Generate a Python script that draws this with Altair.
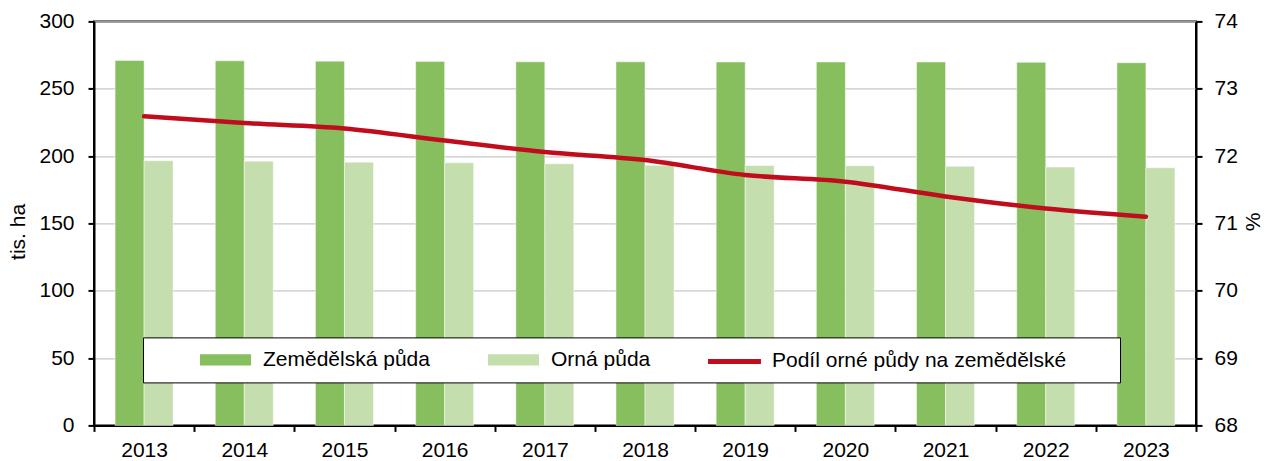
import altair as alt
import pandas as pd

# ---- data ----
years = [str(y) for y in range(2013, 2024)]
zemedelska = [271.0, 270.7, 270.5, 270.3, 270.0, 270.0, 269.8, 269.8, 269.8, 269.6, 269.3]
orna = [196.5, 196.2, 195.5, 195.0, 194.3, 193.2, 193.0, 192.8, 192.4, 191.8, 191.3]
podil = [72.59, 72.49, 72.41, 72.23, 72.06, 71.94, 71.72, 71.62, 71.40, 71.22, 71.10]

series = ["Zemědělská půda", "Orná půda", "Podíl orné půdy na zemědělské"]
colors = ["#87BF5F", "#C5DEAD", "#C00D1E"]
left_ticks = [0, 50, 100, 150, 200, 250, 300]
right_ticks = [68, 69, 70, 71, 72, 73, 74]

FONT = "Liberation Sans"

bars_df = pd.DataFrame({
    "rok": years * 2,
    "ukazatel": [series[0]] * len(years) + [series[1]] * len(years),
    "hodnota": zemedelska + orna,
    "barva": [colors[0]] * len(years) + [colors[1]] * len(years),
})
line_df = pd.DataFrame({"rok": years, "podil": podil})
legend_df = pd.DataFrame({"ukazatel": series})

x_enc = alt.X(
    "rok:O",
    scale=alt.Scale(paddingInner=0, paddingOuter=0),
    axis=alt.Axis(title=None, labelAngle=0, tickBand="extent", grid=False,
                  labelPadding=8),
)

bars = alt.Chart(bars_df).mark_bar(stroke="#ffffff", strokeOpacity=0.45, strokeWidth=1).encode(
    x=x_enc,
    xOffset=alt.XOffset("ukazatel:N",
                        scale=alt.Scale(domain=series[:2], paddingInner=0, paddingOuter=0.7276)),
    y=alt.Y("hodnota:Q",
            scale=alt.Scale(domain=[0, 300], nice=False, zero=True),
            axis=alt.Axis(title="tis. ha", values=left_ticks, grid=True,
                          gridColor="#C8C8C8", gridWidth=1.4, labelPadding=14,
                          titleAngle=270, titleX=-75.5, titleY=210,
                          titleAlign="center", titleBaseline="middle")),
    fill=alt.Fill("barva:N", scale=None),
)

line = alt.Chart(line_df).mark_line(
    interpolate="monotone", strokeWidth=4.5, strokeCap="round", color=colors[2]
).encode(
    x=x_enc,
    y=alt.Y("podil:Q",
            scale=alt.Scale(domain=[68, 74], nice=False, zero=False),
            axis=alt.Axis(orient="right", title="%", values=right_ticks, grid=False,
                          labelPadding=12, titleAngle=270, titleX=57, titleY=200,
                          titleAlign="center", titleBaseline="middle")),
)

swatch = "M-2.43,-0.29H2.43M-2.43,0H2.43M-2.43,0.29H2.43"
shapes = [swatch, swatch, "M-2.52,0H2.52M34.9,0"]

legend = alt.Legend(
    title=None, orient="none", legendX=49, legendY=316, direction="horizontal",
    strokeColor="#000000", fillColor="#ffffff", padding=9,
    labelFont=FONT, labelFontSize=21, labelColor="#000000", labelLimit=600,
    symbolOffset=60.5, labelOffset=24.5, columnPadding=10,
    symbolSize=441, symbolStrokeWidth=5, symbolOpacity=1,
)

legend_layer = alt.Chart(legend_df).mark_point(filled=False, opacity=1, strokeWidth=5).encode(
    color=alt.Color("ukazatel:N", scale=alt.Scale(domain=series, range=colors), legend=legend),
    shape=alt.Shape("ukazatel:N", scale=alt.Scale(domain=series, range=shapes), legend=legend),
).transform_filter("false")

chart = alt.layer(bars, line, legend_layer).resolve_scale(
    y="independent"
).properties(
    width=1102, height=404,
    padding={"left": 86, "top": 13.4, "right": 65, "bottom": 35.6},
    autosize=alt.AutoSizeParams(type="none"),
).configure(
    font=FONT,
).configure_view(
    stroke="#000000", strokeWidth=2,
).configure_axis(
    labelFont=FONT, labelFontSize=21, labelColor="#000000",
    titleFont=FONT, titleFontSize=21, titleColor="#000000", titleFontWeight="normal",
    domainColor="#000000", domainWidth=2, tickColor="#000000", tickWidth=2, tickSize=6,
)

chart.save("out.html", embed_options={"renderer": "svg", "actions": False})
